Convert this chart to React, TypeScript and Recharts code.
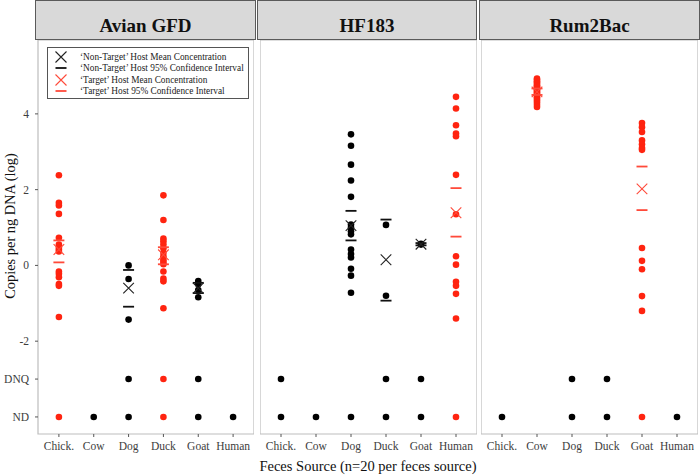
import { ScatterChart, Scatter, XAxis, YAxis, ReferenceArea } from "recharts";

const FONT = "'Liberation Serif', 'Times New Roman', serif";
const RED = "#ff2410";
const RED_LIGHT = "#ff4a3a";
const BLACK = "#000000";
const TICK_COLOR = "#3d3d3d";

const CATEGORIES = ["Chick.", "Cow", "Dog", "Duck", "Goat", "Human"];
const ND = -4;
const DNQ = -3;
const Y_TICKS = [ND, DNQ, -2, 0, 2, 4];
const Y_DOMAIN: [number, number] = [-4.45, 5.95];
const X_DOMAIN: [number, number] = [-0.6, 5.6];

// Avian GFD
const AVIAN_SAMPLES: number[][] = [
  [2.38, 1.65, 1.58, 1.36, 0.73, 0.55, 0.47, 0.42, 0.37, -0.16, -0.22, -0.31, -0.49, -0.54, -1.36, ND],
  [ND],
  [0.0, -0.36, -1.43, DNQ, ND],
  [1.85, 1.2, 0.71, 0.64, 0.55, 0.45, 0.33, 0.24, 0.15, 0.09, 0.03, -0.16, -0.35, -0.42, -1.13, DNQ, ND],
  [-0.41, -0.5, -0.65, -0.84, DNQ, ND],
  [ND],
];
const AVIAN_TARGETS = ["Chick.", "Duck"];
const AVIAN_MEAN = [0.42, null, -0.6, 0.28, -0.6, null];
const AVIAN_CI_LOW = [0.08, null, -1.09, 0.03, -0.73, null];
const AVIAN_CI_HIGH = [0.66, null, -0.12, 0.48, -0.46, null];

// HF183
const HF183_SAMPLES: number[][] = [
  [DNQ, ND],
  [ND],
  [3.46, 3.16, 2.66, 2.24, 1.81, 1.08, 1.0, 0.9, 0.82, 0.42, 0.3, 0.21, -0.09, -0.27, -0.72, ND],
  [1.07, -0.8, DNQ, ND],
  [0.57, 0.55, DNQ, ND],
  [4.45, 4.14, 3.7, 3.48, 3.41, 2.39, 1.35, 0.24, 0.02, -0.43, -0.54, -0.75, -1.4, ND],
];
const HF183_TARGETS = ["Human"];
const HF183_MEAN = [null, null, 1.05, 0.15, 0.56, 1.39];
const HF183_CI_LOW = [null, null, 0.66, -0.93, 0.53, 0.76];
const HF183_CI_HIGH = [null, null, 1.44, 1.21, 0.59, 2.04];

// Rum2Bac
const RUM_SAMPLES: number[][] = [
  [ND],
  [4.93, 4.9, 4.86, 4.83, 4.79, 4.75, 4.72, 4.69, 4.65, 4.62, 4.58, 4.55, 4.52, 4.48, 4.44, 4.4, 4.35, 4.3, 4.24, 4.18],
  [DNQ, ND],
  [DNQ, ND],
  [3.76, 3.65, 3.52, 3.3, 3.2, 3.1, 3.05, 0.46, 0.12, -0.1, -0.81, -1.2, ND],
  [ND],
];
const RUM_TARGETS = ["Cow", "Goat"];
const RUM_MEAN = [null, 4.58, null, null, 2.02, null];
const RUM_CI_LOW = [null, 4.5, null, null, 1.46, null];
const RUM_CI_HIGH = [null, 4.67, null, null, 2.61, null];

type Pt = { x: number; y: number };

function buildPanel(
  samples: number[][],
  targets: string[],
  mean: (number | null)[],
  lo: (number | null)[],
  hi: (number | null)[]
) {
  const out = {
    dotsT: [] as Pt[], dotsN: [] as Pt[],
    meanT: [] as Pt[], meanN: [] as Pt[],
    ciT: [] as Pt[], ciN: [] as Pt[],
  };
  CATEGORIES.forEach((cat, i) => {
    const isT = targets.includes(cat);
    for (const v of samples[i]) (isT ? out.dotsT : out.dotsN).push({ x: i, y: v });
    const m = mean[i];
    if (m != null) (isT ? out.meanT : out.meanN).push({ x: i, y: m });
    for (const c of [lo[i], hi[i]]) {
      if (c != null) (isT ? out.ciT : out.ciN).push({ x: i, y: c });
    }
  });
  return out;
}

const dot = (color: string) => (p: any) => (
  <circle cx={p.cx} cy={p.cy} r={3.3} fill={color} />
);
const cross = (color: string, w: number) => (p: any) => {
  const s = 5.3;
  return (
    <path
      d={`M${p.cx - s},${p.cy - s}L${p.cx + s},${p.cy + s}M${p.cx - s},${p.cy + s}L${p.cx + s},${p.cy - s}`}
      stroke={color}
      strokeWidth={w}
      fill="none"
    />
  );
};
const dash = (color: string) => (p: any) => (
  <line x1={p.cx - 5.5} x2={p.cx + 5.5} y1={p.cy} y2={p.cy} stroke={color} strokeWidth={1.8} />
);

function Panel({
  left, width, showY, data,
}: {
  left: number; width: number; showY: boolean; data: ReturnType<typeof buildPanel>;
}) {
  return (
    <div style={{ position: "absolute", left, top: 0 }}>
      <ScatterChart width={width} height={476} margin={{ top: 40, right: 0, bottom: 0, left: 0 }}>
        <XAxis
          type="number"
          dataKey="x"
          domain={X_DOMAIN}
          ticks={[0, 1, 2, 3, 4, 5]}
          tickFormatter={(v) => CATEGORIES[v] ?? ""}
          axisLine={false}
          tickSize={3}
          tickMargin={5}
          height={42}
          interval={0}
          allowDataOverflow
          tickLine={{ stroke: "#555" }}
          tick={{ fill: TICK_COLOR, fontSize: 11.5, fontFamily: FONT }}
        />
        <YAxis
          type="number"
          dataKey="y"
          hide={!showY}
          width={38}
          domain={Y_DOMAIN}
          ticks={Y_TICKS}
          allowDataOverflow
          tickFormatter={(v) => (v === ND ? "ND" : v === DNQ ? "DNQ" : String(v))}
          axisLine={false}
          tickSize={3}
          tickMargin={6}
          interval={0}
          tickLine={{ stroke: "#555" }}
          tick={{ fill: TICK_COLOR, fontSize: 11.5, fontFamily: FONT }}
        />
        <ReferenceArea
          x1={X_DOMAIN[0]} x2={X_DOMAIN[1]} y1={Y_DOMAIN[0]} y2={Y_DOMAIN[1]}
          fill="none" stroke="#bdbdbd" strokeWidth={1.2} fillOpacity={0}
        />
        <Scatter data={data.dotsN} shape={dot(BLACK)} isAnimationActive={false} />
        <Scatter data={data.dotsT} shape={dot(RED)} isAnimationActive={false} />
        <Scatter data={data.ciN} shape={dash("#111")} isAnimationActive={false} />
        <Scatter data={data.ciT} shape={dash(RED_LIGHT)} isAnimationActive={false} />
        <Scatter data={data.meanN} shape={cross("#222", 1.1)} isAnimationActive={false} />
        <Scatter data={data.meanT} shape={cross(RED_LIGHT, 1.1)} isAnimationActive={false} />
      </ScatterChart>
    </div>
  );
}

const stripStyle = (left: number, width: number): React.CSSProperties => ({
  position: "absolute", left, top: 0, width, height: 40, boxSizing: "border-box",
  background: "#d9d9d9", border: "1px solid #5a5a5a",
});
const stripText = (left: number, width: number): React.CSSProperties => ({
  position: "absolute", left, top: 6, width, height: 40, lineHeight: "40px",
  textAlign: "center", fontFamily: FONT, fontWeight: 700, fontSize: 19, color: "#111",
});

function LegendSymbol({ kind, color }: { kind: "x" | "dash"; color: string }) {
  return (
    <svg width={14} height={12} style={{ display: "block" }}>
      {kind === "x" ? (
        <path d="M1.5,0.5L12.5,11.5M1.5,11.5L12.5,0.5" stroke={color} strokeWidth={1.1} fill="none" />
      ) : (
        <line x1={1.5} x2={12.5} y1={6} y2={6} stroke={color} strokeWidth={1.8} />
      )}
    </svg>
  );
}

const LEGEND_ITEMS = [
  { label: "‘Non-Target’ Host Mean Concentration", kind: "x" as const, color: "#222" },
  { label: "‘Non-Target’ Host 95% Confidence Interval", kind: "dash" as const, color: "#111" },
  { label: "‘Target’ Host Mean Concentration", kind: "x" as const, color: RED_LIGHT },
  { label: "‘Target’ Host 95% Confidence Interval", kind: "dash" as const, color: RED_LIGHT },
];

export default function App() {
  const avian = buildPanel(AVIAN_SAMPLES, AVIAN_TARGETS, AVIAN_MEAN, AVIAN_CI_LOW, AVIAN_CI_HIGH);
  const hf = buildPanel(HF183_SAMPLES, HF183_TARGETS, HF183_MEAN, HF183_CI_LOW, HF183_CI_HIGH);
  const rum = buildPanel(RUM_SAMPLES, RUM_TARGETS, RUM_MEAN, RUM_CI_LOW, RUM_CI_HIGH);

  return (
    <div style={{ position: "absolute", left: 0, top: 0, width: 700, height: 476, background: "#fff", overflow: "hidden", fontFamily: FONT }}>
      <Panel left={0} width={254} showY data={avian} />
      <Panel left={260} width={217} showY={false} data={hf} />
      <Panel left={481} width={217} showY={false} data={rum} />

      <div style={stripStyle(35, 221)} />
      <div style={stripStyle(257, 220)} />
      <div style={stripStyle(479, 221)} />
      <div style={stripText(35, 221)}>Avian GFD</div>
      <div style={stripText(257, 220)}>HF183</div>
      <div style={stripText(479, 221)}>Rum2Bac</div>

      <div
        style={{
          position: "absolute", left: 47, top: 47, width: 202, height: 52, boxSizing: "border-box",
          border: "1px solid #555", background: "#fff", overflow: "hidden", paddingTop: 3,
        }}
      >
        {LEGEND_ITEMS.map((it) => (
          <div key={it.label} style={{ display: "flex", alignItems: "center", height: 11.5, whiteSpace: "nowrap" }}>
            <div style={{ width: 26, paddingLeft: 6 }}>
              <LegendSymbol kind={it.kind} color={it.color} />
            </div>
            <span style={{ fontSize: 9.3, color: "#222" }}>{it.label}</span>
          </div>
        ))}
      </div>

      <div
        style={{
          position: "absolute", left: 10, top: 226, width: 0, height: 0,
        }}
      >
        <div
          style={{
            position: "absolute", left: -100, top: -9, width: 200, textAlign: "center",
            transform: "rotate(-90deg)", fontSize: 14.4, color: "#111", lineHeight: "18px",
          }}
        >
          Copies per ng DNA (log)
        </div>
      </div>
      <div
        style={{
          position: "absolute", left: 168, width: 400, top: 457, textAlign: "center",
          fontSize: 14.5, color: "#111", lineHeight: "18px",
        }}
      >
        Feces Source (n=20 per feces source)
      </div>
    </div>
  );
}
